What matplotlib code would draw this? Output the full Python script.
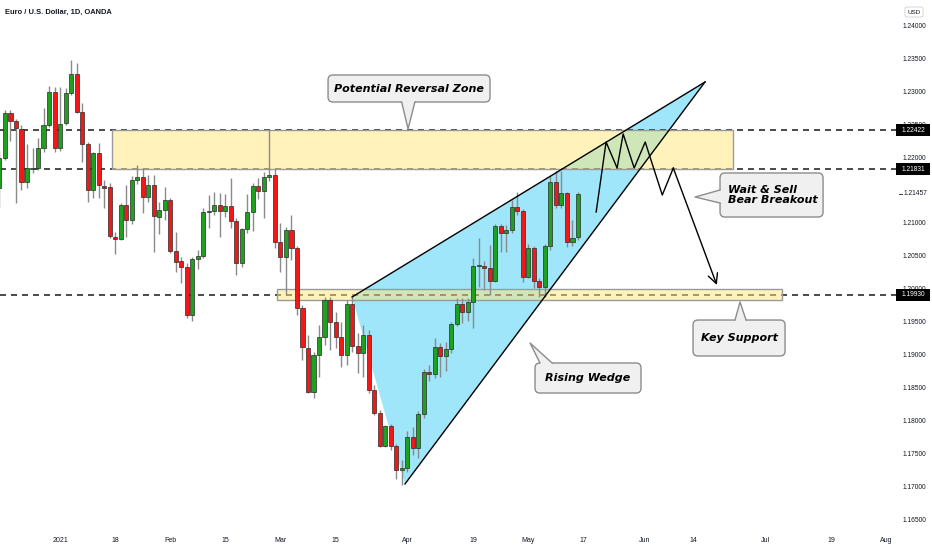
import numpy as np
import matplotlib
matplotlib.use("Agg")
import matplotlib.pyplot as plt
from matplotlib.patches import Rectangle, Polygon, FancyBboxPatch
from matplotlib.transforms import blended_transform_factory
import warnings
warnings.filterwarnings("ignore")

plt.rcParams['font.family'] = ['Liberation Sans', 'DejaVu Sans']

# 日线K线 (索引: 2021-01-04 = 0, 只计交易日)
bar_idx = list(range(-11, 95))
opens = [1.2155, 1.2200, 1.2268, 1.2256, 1.2244, 1.2164, 1.2183, 1.2185, 1.2215, 1.2250,
         1.2300, 1.2215, 1.2253, 1.2298, 1.2327, 1.2270, 1.2221, 1.2152, 1.2208, 1.2158,
         1.2156, 1.2080, 1.2077, 1.2129, 1.2106, 1.2167, 1.2171, 1.2141, 1.2159, 1.2111,
         1.2121, 1.2137, 1.2059, 1.2044, 1.2035, 1.1962, 1.2047, 1.2052, 1.2118, 1.2119,
         1.2129, 1.2120, 1.2127, 1.2105, 1.2041, 1.2092, 1.2118, 1.2158, 1.2150, 1.2171,
         1.2175, 1.2073, 1.2050, 1.2091, 1.2064, 1.1973, 1.1912, 1.1845, 1.1902, 1.1929,
         1.1985, 1.1952, 1.1929, 1.1902, 1.1979, 1.1915, 1.1905, 1.1932, 1.1848, 1.1814,
         1.1764, 1.1794, 1.1764, 1.1727, 1.1730, 1.1778, 1.1761, 1.1812, 1.1876, 1.1873,
         1.1914, 1.1900, 1.1911, 1.1948, 1.1979, 1.1967, 1.1982, 1.2036, 1.2037, 1.2034,
         1.2014, 1.2097, 1.2086, 1.2091, 1.2126, 1.2120, 1.2020, 1.2064, 1.2014, 1.2005,
         1.2066, 1.2163, 1.2129, 1.2147, 1.2073, 1.2080]
highs = [1.2209, 1.2273, 1.2273, 1.2259, 1.2250, 1.2221, 1.2215, 1.2230, 1.2276, 1.2309,
         1.2308, 1.2308, 1.2306, 1.2349, 1.2344, 1.2283, 1.2224, 1.2209, 1.2223, 1.2167,
         1.2162, 1.2088, 1.2132, 1.2159, 1.2172, 1.2189, 1.2185, 1.2174, 1.2174, 1.2133,
         1.2156, 1.2140, 1.2088, 1.2050, 1.2041, 1.2050, 1.2061, 1.2124, 1.2144, 1.2149,
         1.2147, 1.2145, 1.2170, 1.2109, 1.2094, 1.2145, 1.2162, 1.2170, 1.2179, 1.2243,
         1.2183, 1.2101, 1.2095, 1.2114, 1.2067, 1.1978, 1.1932, 1.1906, 1.1947, 1.1990,
         1.1990, 1.1967, 1.1952, 1.1985, 1.1991, 1.1935, 1.1947, 1.1939, 1.1856, 1.1818,
         1.1796, 1.1797, 1.1767, 1.1742, 1.1786, 1.1792, 1.1817, 1.1880, 1.1887, 1.1927,
         1.1920, 1.1921, 1.1952, 1.1988, 1.1988, 1.1988, 1.2048, 1.2079, 1.2044, 1.2068,
         1.2100, 1.2100, 1.2099, 1.2136, 1.2149, 1.2122, 1.2070, 1.2066, 1.2018, 1.2070,
         1.2173, 1.2181, 1.2180, 1.2149, 1.2106, 1.2148]
lows = [1.2126, 1.2197, 1.2226, 1.2132, 1.2152, 1.2155, 1.2178, 1.2182, 1.2209, 1.2247,
        1.2209, 1.2211, 1.2250, 1.2296, 1.2268, 1.2194, 1.2133, 1.2139, 1.2139, 1.2124,
        1.2079, 1.2055, 1.2075, 1.2080, 1.2100, 1.2160, 1.2117, 1.2133, 1.2058, 1.2085,
        1.2106, 1.2056, 1.2027, 1.2011, 1.1958, 1.1953, 1.2032, 1.2049, 1.2094, 1.2114,
        1.2080, 1.2111, 1.2094, 1.2023, 1.2035, 1.2086, 1.2090, 1.2138, 1.2109, 1.2165,
        1.2064, 1.2027, 1.1993, 1.2046, 1.1962, 1.1894, 1.1844, 1.1836, 1.1868, 1.1917,
        1.1909, 1.1912, 1.1883, 1.1886, 1.1906, 1.1874, 1.1868, 1.1844, 1.1811, 1.1762,
        1.1762, 1.1758, 1.1713, 1.1704, 1.1724, 1.1750, 1.1745, 1.1806, 1.1862, 1.1867,
        1.1868, 1.1877, 1.1905, 1.1945, 1.1950, 1.1953, 1.1943, 1.2005, 1.2000, 1.1993,
        1.2012, 1.2058, 1.2058, 1.2086, 1.2113, 1.2012, 1.2018, 1.2003, 1.1989, 1.1989,
        1.2061, 1.2124, 1.2124, 1.2065, 1.2066, 1.2076]
closes = [1.2200, 1.2268, 1.2256, 1.2245, 1.2164, 1.2185, 1.2185, 1.2215, 1.2250, 1.2300,
          1.2215, 1.2252, 1.2298, 1.2327, 1.2270, 1.2221, 1.2152, 1.2208, 1.2159, 1.2155,
          1.2082, 1.2078, 1.2129, 1.2106, 1.2167, 1.2171, 1.2141, 1.2159, 1.2112, 1.2121,
          1.2137, 1.2059, 1.2042, 1.2035, 1.1962, 1.2047, 1.2052, 1.2118, 1.2119, 1.2129,
          1.2120, 1.2127, 1.2105, 1.2041, 1.2092, 1.2118, 1.2158, 1.2150, 1.2171, 1.2175,
          1.2073, 1.2050, 1.2091, 1.2064, 1.1973, 1.1914, 1.1845, 1.1902, 1.1929, 1.1985,
          1.1952, 1.1929, 1.1902, 1.1979, 1.1915, 1.1905, 1.1932, 1.1848, 1.1814, 1.1764,
          1.1794, 1.1764, 1.1727, 1.1730, 1.1778, 1.1761, 1.1812, 1.1876, 1.1873, 1.1914,
          1.1900, 1.1911, 1.1948, 1.1979, 1.1967, 1.1982, 1.2036, 1.2037, 1.2034, 1.2014,
          1.2097, 1.2086, 1.2091, 1.2126, 1.2120, 1.2020, 1.2064, 1.2014, 1.2005, 1.2066,
          1.2163, 1.2129, 1.2147, 1.2073, 1.2079, 1.2145]

# 时间轴标签
tick_pos = [0, 10, 20, 30, 40, 50, 63, 75, 85, 95, 106, 115, 128, 140, 150]
tick_lab = ['2021', '18', 'Feb', '15', 'Mar', '15', 'Apr', '19', 'May', '17', 'Jun', '14', 'Jul', '19', 'Aug']

# 价格轴
price_ticks = [1.240, 1.235, 1.230, 1.225, 1.220, 1.210, 1.205, 1.200,
               1.195, 1.190, 1.185, 1.180, 1.175, 1.170, 1.165]
marked_levels = [1.22422, 1.21831, 1.19930]
last_label = 1.21457

# 画图对象 (时间索引, 价格)
reversal_zone = (9.4, 122.1, 1.21831, 1.22422)
support_zone = (39.4, 131.0, 1.19848, 1.20011)
wedge_up = [(53.0, 1.19894), (117.06, 1.23152)]
wedge_low = [(62.6, 1.17061), (117.06, 1.23152)]
zig_x = [97.3, 99.1, 101.1, 102.2, 104.2, 106.2, 109.3, 111.3, 119.2]
zig_y = [1.21182, 1.22242, 1.21848, 1.22364, 1.21848, 1.22242, 1.21439, 1.21848, 1.20076]

XMIN, XMAX = -10.9, 151.9
YMIN, YMAX = 1.16409, 1.24394
W, H = 932, 550
AX_W, AX_H, AX_B = 897, 527, 23
px_x = (XMAX - XMIN) / AX_W
px_y = (YMAX - YMIN) / AX_H

fig = plt.figure(figsize=(W / 100, H / 100), dpi=100)
ax = fig.add_axes([0, AX_B / H, AX_W / W, AX_H / H])
ax.set_xlim(XMIN, XMAX)
ax.set_ylim(YMIN, YMAX)
ax.set_axis_off()

# K线
idx = np.array(bar_idx)
o, h, l, c = map(np.array, (opens, highs, lows, closes))
col = np.where(c >= o, '#1fa01f', '#f21818')
ax.vlines(idx, l, h, color='#8a8a8a', lw=1, zorder=6)
body_lo = np.minimum(o, c)
body_h = np.maximum(np.abs(c - o), px_y)
ax.bar(idx, body_h, bottom=body_lo, width=0.74, color=col,
       edgecolor='#2a2a2a', linewidth=0.5, zorder=7)

# 水平虚线
for lv in marked_levels:
    ax.axhline(lv, color='#2b2b2b', lw=1.2, ls=(0, (3.6, 3.0)), zorder=3.5)

# 楔形
ax.add_patch(Polygon([wedge_up[0], wedge_up[1], wedge_low[0]], closed=True,
                     fc='#9fe6fa', ec='none', zorder=3))
ax.plot([p[0] for p in wedge_up], [p[1] for p in wedge_up], color='black', lw=1, zorder=8)
ax.plot([p[0] for p in wedge_low], [p[1] for p in wedge_low], color='black', lw=1, zorder=8)

# 区域
yellow = (1.0, 0.913, 0.47, 0.5)
for z in (reversal_zone, support_zone):
    ax.add_patch(Rectangle((z[0], z[2]), z[1] - z[0], z[3] - z[2],
                           fc=yellow, ec='#9a9a9a', lw=1, zorder=4))

# 预期走势
ax.plot(zig_x[:-1], zig_y[:-1], color='black', lw=1, zorder=9)
ax.annotate('', xy=(zig_x[-1], zig_y[-1]), xytext=(zig_x[-2], zig_y[-2]),
            arrowprops=dict(arrowstyle='->,head_length=0.7,head_width=0.35',
                            color='black', lw=1, shrinkA=0, shrinkB=0), zorder=9)


def callout(x0, x1, y0, y1, tip, b1, b2, inward, text, tx=None, ha='center'):
    asp = px_y / px_x
    box = FancyBboxPatch((x0, y0), x1 - x0, y1 - y0,
                         boxstyle='round,pad=0,rounding_size=0.9', mutation_aspect=asp,
                         fc='#f0f0f0', ec='#8c8c8c', lw=1, zorder=20)
    ax.add_patch(box)
    b1i = (b1[0] + inward[0], b1[1] + inward[1])
    b2i = (b2[0] + inward[0], b2[1] + inward[1])
    ax.add_patch(Polygon([tip, b1, b1i, b2i, b2], closed=True, fc='#f0f0f0', ec='none', zorder=21))
    ax.plot([b1[0], tip[0], b2[0]], [b1[1], tip[1], b2[1]], color='#8c8c8c', lw=1, zorder=22)
    if tx is None:
        tx = (x0 + x1) / 2
    ax.text(tx, (y0 + y1) / 2, text, ha=ha, va='center', fontsize=8, fontweight='bold',
            fontstyle='italic', family=['DejaVu Sans'], color='black', zorder=23,
            linespacing=1.1)


callout(48.64, 78.04, 1.22848, 1.23258, (63.16, 1.22440), (62.0, 1.22848), (64.4, 1.22848),
        (0, 3 * px_y), 'Potential Reversal Zone')
callout(119.78, 138.48, 1.21106, 1.21773, (115.25, 1.21409), (119.78, 1.21515), (119.78, 1.21318),
        (3 * px_x, 0), 'Wait & Sell\nBear Breakout', tx=121.2, ha='left')
callout(114.88, 131.58, 1.19000, 1.19545, (123.41, 1.19818), (122.5, 1.19545), (124.5, 1.19545),
        (0, -3 * px_y), 'Key Support')
callout(86.2, 105.44, 1.18439, 1.18894, (85.3, 1.19197), (87.1, 1.18894), (89.3, 1.18894),
        (0, -3 * px_y), 'Rising Wedge')

# 标题
fig.text(5 / W, 1 - 12 / H, 'Euro / U.S. Dollar, 1D, OANDA', fontsize=5.4,
         color='#131722', ha='left', va='center', fontweight='bold')

# 时间轴
tr_x = blended_transform_factory(ax.transData, fig.transFigure)
for p, lab in zip(tick_pos, tick_lab):
    ax.text(p, 10 / H, lab, transform=tr_x, ha='center', va='center', fontsize=5,
            color='#131722', clip_on=False)

# 价格轴
tr_y = blended_transform_factory(fig.transFigure, ax.transData)
for v in price_ticks:
    ax.text(914 / W, v, f'{v:.5f}', transform=tr_y, ha='center', va='center', fontsize=4.8,
            color='#131722', clip_on=False)
for lv in marked_levels:
    ax.add_patch(Rectangle((896 / W, lv - 6 * px_y), 34 / W, 12 * px_y, transform=tr_y,
                           fc='black', ec='none', clip_on=False, zorder=30))
    ax.text(913 / W, lv, f'{lv:.5f}', transform=tr_y, ha='center', va='center', fontsize=4.8,
            color='white', clip_on=False, zorder=31)
ax.plot([899 / W, 902 / W], [last_label, last_label], transform=tr_y, color='#131722',
        lw=0.6, clip_on=False)
ax.text(915 / W, last_label, f'{last_label:.5f}', transform=tr_y, ha='center', va='center',
        fontsize=4.8, color='#131722', clip_on=False)
fig.text(914 / W, 1 - 12 / H, 'USD', fontsize=4.5, color='#131722', ha='center', va='center',
         bbox=dict(boxstyle='round,pad=0.4,rounding_size=0.3', fc='white', ec='#d0d0d0', lw=0.6))

fig.savefig('out.png', dpi=100)
